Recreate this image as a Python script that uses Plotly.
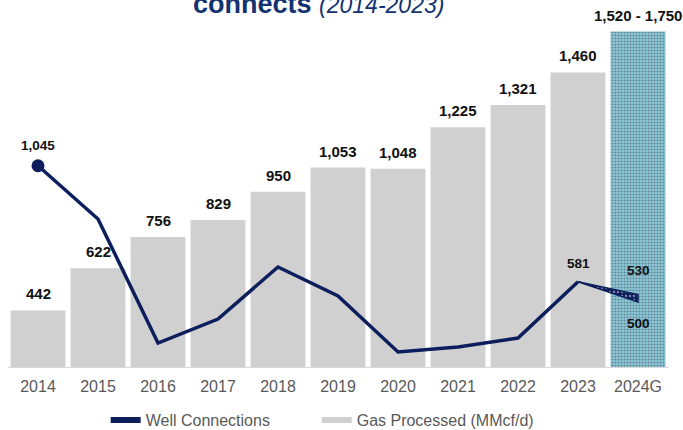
import plotly.graph_objects as go

# Gas processed (MMcf/d) by year, with the 2024 guidance range
years = ["2014", "2015", "2016", "2017", "2018", "2019", "2020", "2021", "2022", "2023"]
gas_processed = [442, 622, 756, 829, 950, 1053, 1048, 1225, 1321, 1460]
guide_label = "2024G"
guide_low = 1520
guide_high = 1750

# Well connections by year, with the 2024 guidance range
well_connections = [1045, 832, 336, 432, 640, 524, 300, 320, 356, 581]
wells_guide_high = 530
wells_guide_low = 500

NAVY = "#0c1f5c"
BAR_GRAY = "#d0d0d0"
TICK_GRAY = "#595959"

categories = years + [guide_label]
pos = list(range(len(categories)))          # slot index for each category
year_pos = pos[:len(years)]
guide_pos = pos[-1]
guide_mid = (guide_low + guide_high) / 2
bar_values = gas_processed + [guide_mid]
bar_colors = [BAR_GRAY] * len(years) + ["#8cc9dd"]
bar_patterns = [""] * len(years) + ["."]

fig = go.Figure()

fig.add_trace(go.Bar(
    x=pos, y=bar_values,
    marker=dict(
        color=bar_colors,
        line=dict(width=0),
        pattern=dict(shape=bar_patterns, fgcolor="#5cb0d4", bgcolor="#b4def0",
                     size=3, solidity=0.4),
    ),
    showlegend=False, hoverinfo="skip",
))

fig.add_trace(go.Scatter(
    x=year_pos, y=well_connections, yaxis="y2", mode="lines",
    line=dict(color=NAVY, width=3.5), showlegend=False, hoverinfo="skip",
))

# marker on the first point only
fig.add_trace(go.Scatter(
    x=[year_pos[0]], y=[well_connections[0]], yaxis="y2", mode="markers",
    marker=dict(color=NAVY, size=13), showlegend=False, hoverinfo="skip",
))

# guidance wedge for 2024 well connections
fig.add_trace(go.Scatter(
    x=[year_pos[-1], guide_pos, guide_pos, year_pos[-1]],
    y=[well_connections[-1], wells_guide_high, wells_guide_low, well_connections[-1]],
    yaxis="y2", mode="lines", fill="toself",
    line=dict(color=NAVY, width=1.5),
    fillcolor=NAVY,
    fillpattern=dict(shape=".", fgcolor="#ffffff", bgcolor=NAVY, size=4, solidity=0.25),
    showlegend=False, hoverinfo="skip",
))

# legend entries
fig.add_trace(go.Scatter(
    x=[None], y=[None], mode="lines", name="Well Connections",
    line=dict(color=NAVY, width=6), legendwidth=166,
))
fig.add_trace(go.Scatter(
    x=[None], y=[None], mode="lines", name="Gas Processed (MMcf/d)",
    line=dict(color=BAR_GRAY, width=6), legendwidth=200,
))

annotations = []
label_font = dict(family="Arial, Liberation Sans, sans-serif", size=15, color="#111111")
for p, val in zip(year_pos, gas_processed):
    annotations.append(dict(
        x=p, y=val, xref="x", yref="y", text=f"<b>{val:,}</b>",
        showarrow=False, yanchor="bottom", yshift=6, font=label_font,
    ))
annotations.append(dict(
    x=guide_pos, y=guide_mid, xref="x", yref="y",
    text=f"<b>{guide_low:,} - {guide_high:,}</b>",
    showarrow=False, yanchor="bottom", yshift=6, font=label_font,
))

line_font = dict(family="Arial, Liberation Sans, sans-serif", size=13.5, color="#111111")
annotations.append(dict(
    x=year_pos[0], y=well_connections[0], xref="x", yref="y2",
    text=f"<b>{well_connections[0]:,}</b>", showarrow=False,
    yanchor="bottom", yshift=11, font=line_font,
))
annotations.append(dict(
    x=year_pos[-1], y=well_connections[-1], xref="x", yref="y2",
    text=f"<b>{well_connections[-1]:,}</b>", showarrow=False,
    yanchor="bottom", yshift=9, font=line_font,
))
annotations.append(dict(
    x=guide_pos, y=wells_guide_high, xref="x", yref="y2",
    text=f"<b>{wells_guide_high:,}</b>", showarrow=False,
    yanchor="bottom", yshift=15, font=line_font,
))
annotations.append(dict(
    x=guide_pos, y=wells_guide_low, xref="x", yref="y2",
    text=f"<b>{wells_guide_low:,}</b>", showarrow=False,
    yanchor="top", yshift=-12, font=line_font,
))

# title (runs off the top edge)
annotations.append(dict(
    x=0.47, y=0.97, xref="paper", yref="paper",
    text="<b>connects</b> <i><span style='font-size:23px'>(2014-2023)</span></i>",
    showarrow=False, xanchor="center", yanchor="bottom",
    font=dict(family="Arial, Liberation Sans, sans-serif", size=27, color="#123272"),
))

fig.update_layout(
    width=683, height=430,
    margin=dict(l=8, r=15, t=10, b=63, autoexpand=False),
    paper_bgcolor="white", plot_bgcolor="white",
    bargap=0.085,
    xaxis=dict(
        range=[-0.5, len(categories) - 0.5],
        tickmode="array", tickvals=pos, ticktext=categories,
        showgrid=False, zeroline=False,
        showline=True, linecolor="#d9d9d9", linewidth=1,
        ticks="", ticklabelstandoff=5,
        tickfont=dict(family="Liberation Sans Narrow, Arial Narrow, sans-serif",
                      size=16, color=TICK_GRAY),
    ),
    yaxis=dict(range=[200, 1727], visible=False, showgrid=False),
    yaxis2=dict(range=[240, 1668], overlaying="y", visible=False, showgrid=False),
    legend=dict(
        orientation="h", x=0.148, xanchor="left", y=-0.101, yanchor="top",
        font=dict(family="Arial, Liberation Sans, sans-serif", size=16, color=TICK_GRAY),
        bgcolor="rgba(0,0,0,0)",
    ),
    annotations=annotations,
    showlegend=True,
)

fig.write_html("out.html")
